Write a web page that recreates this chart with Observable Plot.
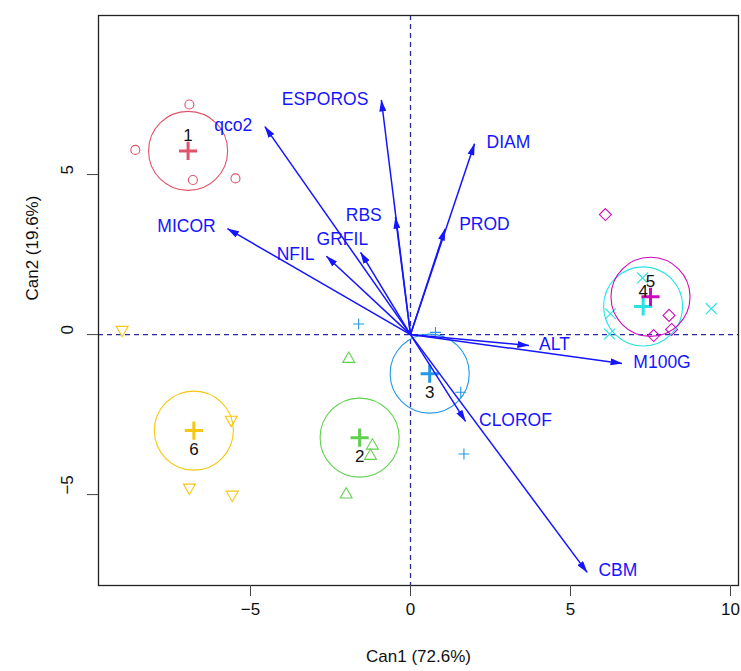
<!DOCTYPE html>
<html>
<head>
<meta charset="utf-8">
<script src="https://cdn.jsdelivr.net/npm/d3@7"></script>
<script src="https://cdn.jsdelivr.net/npm/@observablehq/plot@0.6"></script>
<style>
  html, body { margin: 0; padding: 0; background: #ffffff; }
  #chart svg { font-family: "Liberation Sans", Arial, Helvetica, sans-serif; }
</style>
</head>
<body>
<div id="chart"></div>
<script>
// ---- data ----
const groups = ["1", "2", "3", "4", "5", "6"];
const groupColors = ["#DF536B", "#61D04F", "#2297E6", "#28E2E5", "#CD0BBC", "#F5C710"];
const groupSymbols = ["circle", "triangle2", "plus", "times", "diamond2", "triangle2"];

// observations (canonical scores)
const obsGroup = ["1","1","1","1", "2","2","2","2", "3","3","3","3", "4","4","4","4", "5","5","5","5", "6","6","6","6"];
const obsCan1 = [-6.91, -8.60, -6.80, -5.47,  -1.93, -1.19, -1.25, -2.01,  -1.62, 0.78, 1.57, 1.67,  7.25, 6.25, 6.22, 9.40,  6.09, 8.08, 7.60, 8.16,  -9.01, -5.60, -6.91, -5.57];
const obsCan2 = [7.19, 5.77, 4.83, 4.88,  -0.76, -3.47, -3.79, -5.00,  0.33, 0.07, -1.80, -3.73,  1.77, 0.65, 0.02, 0.81,  3.75, 0.60, -0.03, 0.16,  0.15, -2.66, -4.78, -5.00];

// group centroids
const centCan1 = [-6.95, -1.59, 0.60, 7.27, 7.50, -6.77];
const centCan2 = [5.74, -3.22, -1.22, 0.88, 1.18, -3.00];
const circleRadius = 1.235; // canonical units

// structure vectors
const varNames = ["qco2", "ESPOROS", "DIAM", "PROD", "RBS", "GRFIL", "NFIL", "MICOR", "ALT", "M100G", "CLOROF", "CBM"];
const vecCan1 = [-4.55, -0.91, 2.00, 1.08, -0.47, -1.56, -2.63, -5.72, 3.70, 6.61, 1.72, 5.52];
const vecCan2 = [6.50, 7.33, 5.96, 3.30, 3.67, 2.57, 2.45, 3.31, -0.34, -0.90, -2.71, -7.43];
const labCan1 = [-5.54, -2.67, 3.06, 2.31, -1.46, -2.13, -3.59, -7.00, 4.50, 7.86, 3.28, 6.48];
const labCan2 = [6.53, 7.36, 5.99, 3.43, 3.72, 2.99, 2.52, 3.38, -0.31, -0.86, -2.67, -7.38];

const xTicks = [-5, 0, 5, 10];
const yTicks = [-5, 0, 5];
const xTitle = "Can1 (72.6%)";
const yTitle = "Can2 (19.6%)";

// ---- build tables ----
const obs = obsGroup.map((g, i) => ({group: g, can1: obsCan1[i], can2: obsCan2[i]}));
const cents = groups.map((g, i) => ({group: g, can1: centCan1[i], can2: centCan2[i]}));
const vecs = varNames.map((v, i) => ({name: v, x: vecCan1[i], y: vecCan2[i], lx: labCan1[i], ly: labCan2[i]}));

const W = 741, H = 671, mL = 98, mR = 3, mT = 15, mB = 86;
const xDom = [-9.75, 10.25], yDom = [-7.84, 9.97];
const pxPerUnit = (W - mL - mR) / (xDom[1] - xDom[0]);
const fmt = d => (d < 0 ? "\u2212" + Math.abs(d) : String(d));
const symR = [4.5, 5.7, 3.6, 5, 5.4, 5.7];
const symRot = [0, 0, 0, 0, 0, 180];
const dashCol = "#2b2ba0";
const vecCol = "#1515ff";

const marks = [
  Plot.ruleX([0], {stroke: dashCol, strokeDasharray: "5,4", strokeWidth: 1.3}),
  Plot.ruleY([0], {stroke: dashCol, strokeDasharray: "5,4", strokeWidth: 1.3}),
  ...groups.map((g, i) => Plot.dot(obs.filter(d => d.group === g), {
    x: "can1", y: "can2", symbol: groupSymbols[i], r: symR[i], rotate: symRot[i],
    stroke: groupColors[i], fill: "none", strokeWidth: 1.1
  })),
  ...groups.map((g, i) => Plot.dot(cents.filter(d => d.group === g), {
    x: "can1", y: "can2", symbol: "circle", r: circleRadius * pxPerUnit,
    stroke: groupColors[i], fill: "none", strokeWidth: 1.1
  })),
  ...groups.map((g, i) => Plot.dot(cents.filter(d => d.group === g), {
    x: "can1", y: "can2", symbol: "plus", r: 5.9,
    stroke: groupColors[i], fill: "none", strokeWidth: 3
  })),
  Plot.text(cents.filter(d => d.can2 > 0), {x: "can1", y: "can2", text: "group", dy: -15, fontSize: 17, fill: "#111"}),
  Plot.text(cents.filter(d => d.can2 <= 0), {x: "can1", y: "can2", text: "group", dy: 19, fontSize: 17, fill: "#111"}),
  Plot.link(vecs, {x1: () => 0, y1: () => 0, x2: "x", y2: "y", stroke: vecCol, strokeWidth: 1.5}),
  Plot.text(vecs, {x: "lx", y: "ly", text: "name", fill: vecCol, fontSize: 17.5}),
  Plot.frame({stroke: "#222", strokeWidth: 1.3}),
  Plot.axisX({ticks: xTicks, tickSize: 11, tickFormat: () => "", label: null, stroke: "#444"}),
  Plot.axisY({ticks: yTicks, tickSize: 11, tickFormat: () => "", label: null, stroke: "#444"}),
  Plot.text(xTicks, {x: d => d, frameAnchor: "bottom", dy: 29, text: fmt, fontSize: 17, fill: "#111"}),
  Plot.text(yTicks, {y: d => d, frameAnchor: "left", dx: -31, rotate: -90, text: fmt, fontSize: 17, fill: "#111"}),
  Plot.text([xTitle], {frameAnchor: "bottom", dy: 76, text: d => d, fontSize: 17, fill: "#111"}),
  Plot.text([yTitle], {frameAnchor: "left", dx: -66, rotate: -90, text: d => d, fontSize: 17, fill: "#111"})
];

const chart = Plot.plot({
  width: W, height: H,
  marginLeft: mL, marginRight: mR, marginTop: mT, marginBottom: mB,
  x: {domain: xDom, axis: null},
  y: {domain: yDom, axis: null},
  style: {background: "#ffffff", color: "#111", fontFamily: "Liberation Sans, Arial, sans-serif"},
  marks
});

// filled arrowheads on the structure vectors
const ns = "http://www.w3.org/2000/svg";
const defs = document.createElementNS(ns, "defs");
const marker = document.createElementNS(ns, "marker");
marker.setAttribute("id", "ahead");
marker.setAttribute("viewBox", "0 0 12 7");
marker.setAttribute("refX", "11.5");
marker.setAttribute("refY", "3.5");
marker.setAttribute("markerWidth", "12");
marker.setAttribute("markerHeight", "7");
marker.setAttribute("markerUnits", "userSpaceOnUse");
marker.setAttribute("orient", "auto");
const mp = document.createElementNS(ns, "path");
mp.setAttribute("d", "M0,0L12,3.5L0,7Z");
mp.setAttribute("fill", vecCol);
marker.appendChild(mp);
defs.appendChild(marker);
chart.insertBefore(defs, chart.firstChild);
chart.querySelectorAll('g[aria-label="link"] path').forEach(p => p.setAttribute("marker-end", "url(#ahead)"));

document.getElementById("chart").appendChild(chart);
</script>
</body>
</html>
